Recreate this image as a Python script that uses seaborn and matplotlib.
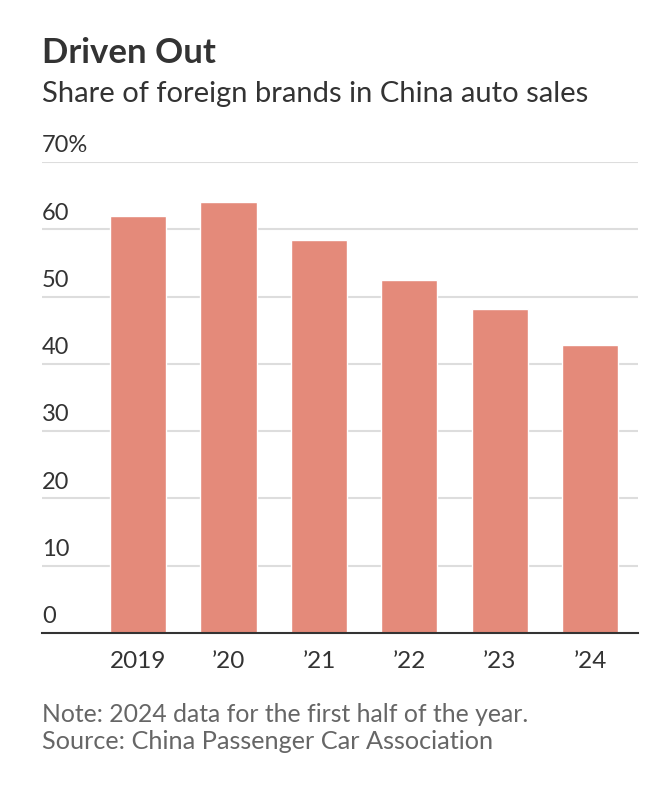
import matplotlib
matplotlib.use("Agg")
import matplotlib.pyplot as plt
import matplotlib.transforms as mtransforms
import seaborn as sns
import pandas as pd

years = ["2019", "\u201920", "\u201921", "\u201922", "\u201923", "\u201924"]
shares = [62.0, 64.1, 58.4, 52.5, 48.1, 42.8]
y_ticks = [0, 10, 20, 30, 40, 50, 60, 70]
y_labels = ["0", "10", "20", "30", "40", "50", "60", "70%"]

title = "Driven Out"
subtitle = "Share of foreign brands in China auto sales"
note = "Note: 2024 data for the first half of the year."
source = "Source: China Passenger Car Association"

BAR = "#e48a7a"
DARK = "#333333"
GREY = "#666666"
GRID = "#dddddd"
FONT = ["Lato", "DejaVu Sans"]


def run():
    sns.set_style("white")
    plt.rcParams["font.family"] = FONT

    df = pd.DataFrame({"year": years, "share": shares})

    fig = plt.figure(figsize=(6.69, 7.94), dpi=100)
    ax = fig.add_axes([0.063, 0.203, 0.891, 0.593])

    sns.barplot(data=df, x="year", y="share", color=BAR, width=0.62,
                saturation=1, ax=ax, zorder=3)

    ax.set_ylim(0, 70)
    ax.set_xlim(-1.06, 5.53)
    ax.set_yticks(y_ticks)
    ax.set_yticklabels([])
    ax.tick_params(axis="y", length=0)
    for v in y_ticks[1:]:
        ax.axhline(v, color=GRID, lw=1.5, zorder=1)

    # y labels sit above their gridlines at the left edge
    trans = mtransforms.blended_transform_factory(ax.transAxes, ax.transData)
    off = mtransforms.ScaledTranslation(0, 4 / 72, fig.dpi_scale_trans)
    for v, lab in zip(y_ticks, y_labels):
        ax.text(0, v, lab, transform=trans + off, ha="left", va="bottom",
                fontsize=17, color=DARK)

    ax.tick_params(axis="x", length=6, width=1.3, color=DARK, pad=7,
                   labelsize=17.5, labelcolor=DARK, direction="out")
    ax.set_xlabel("")
    ax.set_ylabel("")
    for s in ["top", "right", "left"]:
        ax.spines[s].set_visible(False)
    ax.spines["bottom"].set_color(DARK)
    ax.spines["bottom"].set_linewidth(1.5)
    ax.spines["bottom"].set_zorder(4)

    fig.text(0.063, 0.921, title, fontsize=25, fontweight="bold", color=DARK,
             ha="left", va="baseline")
    fig.text(0.063, 0.872, subtitle, fontsize=21, color=DARK,
             ha="left", va="baseline")
    fig.text(0.063, 0.091, note, fontsize=17.8, color=GREY,
             ha="left", va="baseline")
    fig.text(0.063, 0.057, source, fontsize=18.2, color=GREY,
             ha="left", va="baseline")

    fig.savefig("out.png", dpi=100, facecolor="white")


if __name__ == "__main__":
    run()
